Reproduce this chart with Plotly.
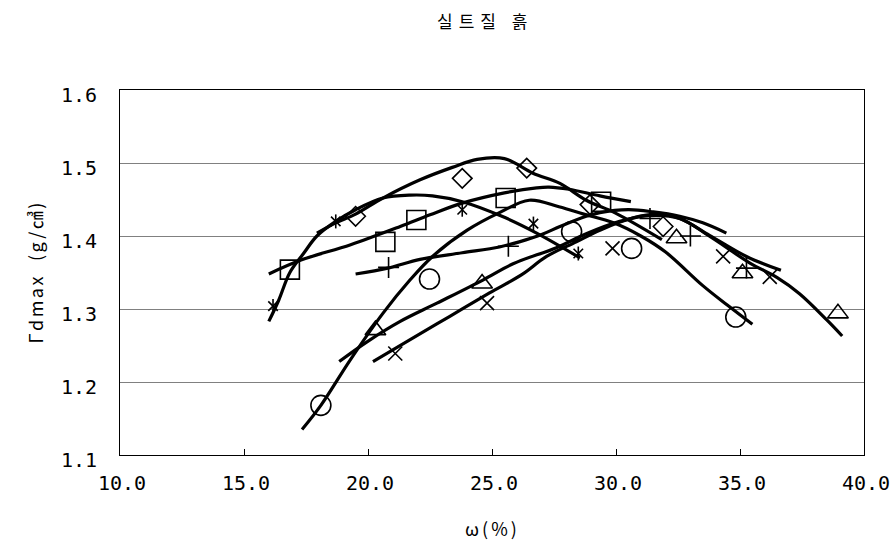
import plotly.graph_objects as go

# ---- marker data ----
diamond_x = [19.5, 23.8, 26.4, 28.95, 31.9]
diamond_y = [1.427, 1.479, 1.493, 1.443, 1.413]
square_x = [16.85, 20.7, 21.95, 25.55, 29.4]
square_y = [1.354, 1.392, 1.422, 1.452, 1.447]
triangle_x = [20.3, 24.6, 32.44, 35.1, 38.95]
triangle_y = [1.271, 1.335, 1.397, 1.349, 1.294]
cross_x = [21.1, 24.8, 29.86, 34.32, 36.2]
cross_y = [1.239, 1.308, 1.383, 1.372, 1.344]
star_x = [16.17, 18.7, 23.8, 26.67, 28.48]
star_y = [1.304, 1.420, 1.436, 1.417, 1.376]
circle_x = [18.1, 22.48, 28.21, 30.63, 34.83]
circle_y = [1.168, 1.341, 1.406, 1.383, 1.289]
plus_x = [20.83, 25.66, 31.37, 33.0, 35.26]
plus_y = [1.357, 1.386, 1.424, 1.400, 1.356]

# ---- fitted curves ----
c_diamond_x = [17.94, 18.7, 19.5, 20.6, 22.1, 23.4, 24.4, 25.5, 26.65, 27.74, 28.8, 30.0, 31.85]
c_diamond_y = [1.404, 1.418, 1.430, 1.452, 1.477, 1.494, 1.505, 1.506, 1.486, 1.472, 1.449, 1.431, 1.395]
c_star_x = [16.0, 16.4, 16.85, 17.4, 17.94, 18.7, 19.5, 20.6, 21.7, 22.6, 23.8, 25.4, 26.8, 28.55]
c_star_y = [1.283, 1.312, 1.350, 1.376, 1.400, 1.420, 1.436, 1.452, 1.456, 1.455, 1.447, 1.427, 1.404, 1.370]
c_square_x = [16.0, 17.3, 19.3, 21.3, 22.5, 23.8, 25.5, 26.8, 27.3, 28.1, 29.35, 30.6]
c_square_y = [1.348, 1.367, 1.388, 1.413, 1.429, 1.445, 1.459, 1.466, 1.467, 1.464, 1.455, 1.447]
c_plus_x = [19.5, 20.8, 22.1, 23.8, 25.3, 26.1, 27.0, 27.74, 28.8, 29.35, 30.5, 31.5, 32.57, 33.5, 34.45]
c_plus_y = [1.348, 1.356, 1.368, 1.377, 1.385, 1.392, 1.402, 1.413, 1.427, 1.432, 1.436, 1.433, 1.427, 1.418, 1.404]
c_cross_x = [20.2, 21.7, 23.3, 24.9, 26.2, 27.2, 28.4, 29.35, 30.7, 31.7, 32.57, 33.77, 35.26, 36.65]
c_cross_y = [1.228, 1.258, 1.290, 1.322, 1.347, 1.372, 1.392, 1.408, 1.425, 1.430, 1.424, 1.401, 1.372, 1.353]
c_triangle_x = [18.84, 19.96, 21.3, 22.78, 24.65, 25.85, 27.6, 28.8, 30.15, 31.3, 32.57, 33.8, 35.4, 36.5, 37.4, 38.5, 39.12]
c_triangle_y = [1.228, 1.255, 1.283, 1.308, 1.340, 1.362, 1.384, 1.403, 1.420, 1.428, 1.424, 1.399, 1.363, 1.343, 1.321, 1.285, 1.263]
c_circle_x = [17.34, 18.1, 19.28, 20.6, 21.7, 22.6, 24.0, 25.3, 26.5, 27.7, 28.7, 29.9, 31.0, 32.0, 33.5, 34.5, 35.5]
c_circle_y = [1.135, 1.168, 1.230, 1.294, 1.340, 1.372, 1.408, 1.432, 1.449, 1.440, 1.430, 1.418, 1.400, 1.378, 1.332, 1.305, 1.279]

x_ticks = [10, 15, 20, 25, 30, 35, 40]
y_ticks = [1.1, 1.2, 1.3, 1.4, 1.5, 1.6]

title_text = "실트질 흙"
x_title = "ω(%)"
y_title = "Γdmax  (g/㎤)"

fig = go.Figure()

curves = [
    (c_diamond_x, c_diamond_y), (c_square_x, c_square_y), (c_triangle_x, c_triangle_y),
    (c_cross_x, c_cross_y), (c_star_x, c_star_y), (c_circle_x, c_circle_y), (c_plus_x, c_plus_y),
]
for cx, cy in curves:
    fig.add_trace(go.Scatter(x=cx, y=cy, mode="lines",
                             line=dict(color="black", width=3.2, shape="spline", smoothing=1.0),
                             showlegend=False, hoverinfo="skip"))

def add_markers(x, y, symbol, size, lw=1.6):
    fig.add_trace(go.Scatter(x=x, y=y, mode="markers",
                             marker=dict(symbol=symbol, size=size, color="black",
                                         line=dict(color="black", width=lw)),
                             showlegend=False))

add_markers(diamond_x, diamond_y, "diamond-open", 15)
add_markers(square_x, square_y, "square-open", 19)
add_markers(triangle_x, triangle_y, "triangle-up-open", 18)
add_markers(cross_x, cross_y, "x-thin-open", 14)
add_markers(star_x, star_y, "x-thin-open", 9.5)
add_markers(star_x, star_y, "line-ns-open", 10)
add_markers(circle_x, circle_y, "circle-open", 20)
add_markers(plus_x, plus_y, "cross-thin-open", 15)

tick_font = dict(family="DejaVu Sans Mono", size=20, color="black")
fig.update_layout(
    width=894, height=558,
    margin=dict(l=120, r=30, t=90, b=103),
    paper_bgcolor="white", plot_bgcolor="white",
    xaxis=dict(range=[10, 40], tickvals=x_ticks, tickformat=".1f", ticks="inside", ticklen=6,
               tickcolor="black", showline=True, mirror=True, linecolor="black", linewidth=1,
               showgrid=False, zeroline=False, tickfont=tick_font, ticklabelstandoff=10,
               ticklabelshift=2, ticklabeloverflow="allow", automargin=False),
    yaxis=dict(range=[1.1, 1.6], tickvals=y_ticks, tickformat=".1f", ticks="",
               showline=True, mirror=True, linecolor="black", linewidth=1,
               showgrid=True, gridcolor="#808080", gridwidth=1, zeroline=False,
               tickfont=tick_font, ticklabelstandoff=18, ticklabelshift=5,
               ticklabeloverflow="allow", automargin=False),
    annotations=[
        dict(text='<span style="letter-spacing:6px">' + title_text + '</span>',
             xref="paper", yref="paper", x=0.49, y=1.0, yshift=70,
             xanchor="center", yanchor="middle",
             showarrow=False, font=dict(family="Noto Sans CJK KR", size=17, color="black")),
        dict(text='<span style="letter-spacing:3px">' + x_title + '</span>',
             xref="paper", yref="paper", x=0.5, y=0, yshift=-73,
             xanchor="center", yanchor="middle",
             showarrow=False, font=dict(family="Noto Sans CJK KR", size=18, color="black")),
        dict(text='<span style="letter-spacing:2.5px">' + y_title + '</span>',
             xref="paper", yref="paper", x=0, xshift=-86, y=0.5,
             xanchor="center", yanchor="middle",
             textangle=-90, showarrow=False,
             font=dict(family="Noto Sans CJK KR", size=18, color="black")),
    ],
)

fig.write_html("out.html")
